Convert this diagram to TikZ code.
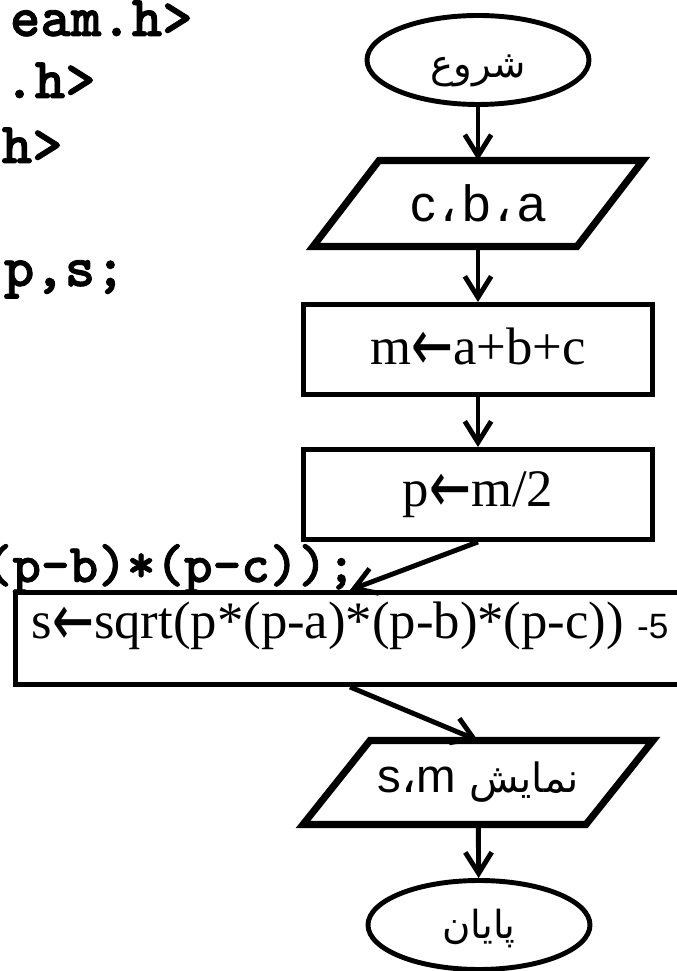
\documentclass[tikz,border=0pt]{standalone}
\usepackage{fontspec}
\usepackage{graphicx}
\setmainfont{Liberation Serif}
\setsansfont{Liberation Sans}
\newfontfamily\arabicfont[Script=Arabic]{DejaVu Sans}
\newfontfamily\symfont{DejaVu Sans}
\newfontfamily\codefont[FakeBold=1.5]{lmmonolt10-bold.otf}
\TeXXeTstate=1
\usetikzlibrary{shapes.geometric, arrows.meta}

\newcommand{\larr}{\raisebox{-0.12em}{\scalebox{0.95}[1.38]{\symfont ←}}}
\newcommand{\acomma}{\kern0.1em{\arabicfont ،}\kern0.1em}

\begin{document}
\begin{tikzpicture}[
    term/.style={draw, ellipse, line width=2.8pt, fill=white, minimum width=4.44cm, minimum height=1.78cm, inner sep=0pt, font=\fontsize{22}{24}\selectfont},
    io/.style={rectangle, inner sep=0pt, outer sep=0pt, minimum width=5.28cm, minimum height=1.72cm, font=\sffamily\fontsize{29}{30}\selectfont},
    para/.style={draw, line width=4pt, line join=miter},
    box/.style={draw, rectangle, line width=2.8pt, fill=white, minimum width=6.98cm, minimum height=1.8cm, font=\fontsize{30}{32}\selectfont},
    code/.style={anchor=base east, inner sep=0pt, font=\codefont\fontsize{33}{35}\selectfont},
    arrow/.style={-{Straight Barb[length=12pt, width=15pt]}, line width=2.8pt}
]
    \useasboundingbox (0,0) rectangle (13.54,19.42);
    \clip (0,0) rectangle (13.54,19.42);

    % code behind the chart
    \node[code] (l1) at (3.86,18.70) {eam.h>};
    \node[code] (l2) at (1.92,17.46) {.h>};
    \node[code] (l3) at (1.26,16.16) {h>};
    \node[code] (l4) at (2.52,13.70) {p,s;};
    \node[code, font=\codefont\fontsize{31}{33}\selectfont] (l5) at (7.12,7.78) {(p-b)*(p-c));};

    % flowchart
    \node[term, text height=22pt, text depth=2pt] (start) at (9.56,18.22) {\arabicfont\beginR شروع\endR};
    \node[io] (in) at (9.56,15.35) {c\acomma b\acomma a};
    \draw[para] ([xshift=0.66cm]in.north west) -- ([xshift=0.66cm]in.north east)
        -- ([xshift=-0.66cm]in.south east) -- ([xshift=-0.66cm]in.south west) -- cycle;
    \node[box] (sum) at (9.56,12.43) {m\larr a+b+c};
    \node[box] (half) at (9.56,9.53) {p\larr m/2};
    \node[box, minimum width=13.38cm, minimum height=1.84cm, text height=4.5pt, text depth=4pt] (area) at (7.0,6.65)
        {s\larr sqrt(p*(p-a)*(p-b)*(p-c)) {\sffamily\fontsize{20}{22}\selectfont -5}};
    \node[io, minimum width=5.66cm, minimum height=1.68cm, font=\sffamily\fontsize{27}{29}\selectfont] (out) at (9.56,3.77)
        {s{\arabicfont ،}m {\arabicfont\fontsize{23}{25}\selectfont\beginR نمایش\endR}};
    \draw[para] ([xshift=0.67cm]out.north west) -- ([xshift=0.67cm]out.north east)
        -- ([xshift=-0.67cm]out.south east) -- ([xshift=-0.67cm]out.south west) -- cycle;
    \node[term, text height=17.6pt, text depth=2.2pt] (stop) at (9.58,0.92) {\arabicfont\beginR پایان\endR};

    % connectors
    \draw[arrow] (start) -- (in);
    \draw[arrow] (in) -- (sum);
    \draw[arrow] (sum) -- (half);
    \draw[arrow] (half.south) -- (area.north);
    \draw[arrow] (area.south) -- (out.north);
    \draw[arrow] (out) -- (stop);
\end{tikzpicture}
\end{document}
